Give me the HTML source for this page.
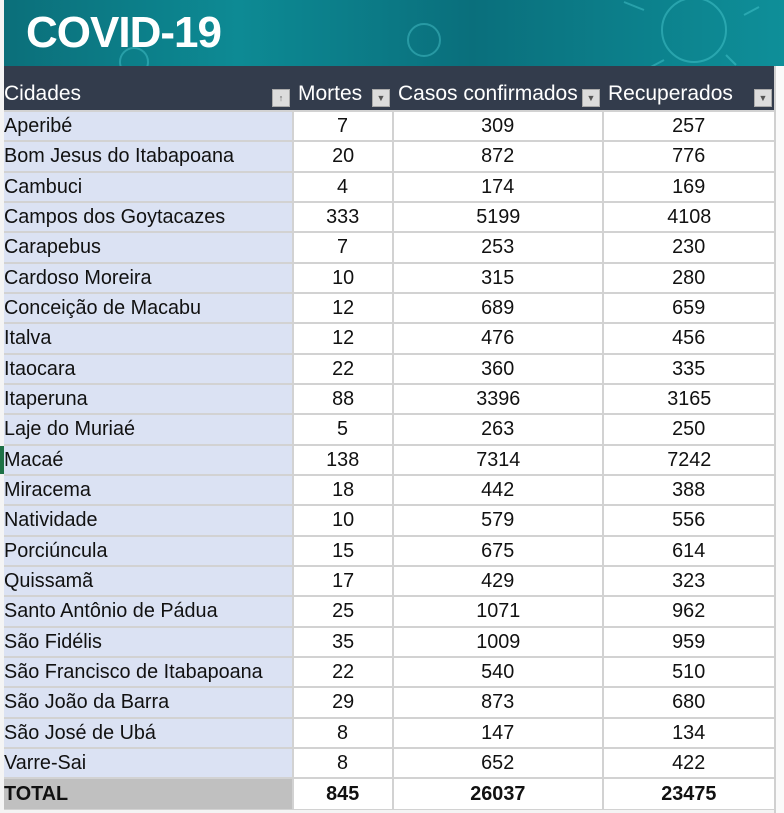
<!DOCTYPE html>
<html><head><meta charset="utf-8">
<style>
html,body{margin:0;padding:0;}
body{width:784px;height:813px;overflow:hidden;background:#f4f4f4;position:relative;font-family:"Liberation Sans",sans-serif;}
#banner{position:absolute;left:4px;top:0;width:780px;height:66px;background:linear-gradient(90deg,#0b6f7a 0%,#0d8a94 30%,#0a6f7c 60%,#0e8f99 100%);overflow:hidden;}
#title{position:absolute;left:22px;top:8px;font-size:44px;font-weight:bold;color:#fff;letter-spacing:-1px;}
#grid{position:absolute;left:4px;top:110px;width:774px;height:700px;background:#d2d2d2;}
#hdr{position:absolute;left:4px;top:66px;width:770px;height:44px;background:#333c4c;}
#rightpad{position:absolute;left:774px;top:66px;width:10px;height:747px;background:#fafafa;border-left:2px solid #d0d0d0;box-sizing:border-box;}
.h{position:absolute;top:66px;height:44px;color:#fff;font-size:21px;line-height:56px;white-space:nowrap;}
.dd{position:absolute;width:18px;height:18px;background:#dcdcdc;border:1px solid #aaa;box-sizing:border-box;font-size:9px;color:#555;text-align:center;line-height:17px;}
.c{position:absolute;box-sizing:border-box;font-size:20px;color:#111;white-space:nowrap;}
.t{display:inline-block;transform:scaleX(0.99);transform-origin:left;}
.n{text-align:center;}
.n .t{transform-origin:center;}
</style></head><body>
<div id="banner">
<svg width="780" height="66" style="position:absolute;left:0;top:0">
<g fill="none" stroke="#5fe0e6" stroke-opacity="0.35" stroke-width="2">
<circle cx="690" cy="30" r="32"/><circle cx="420" cy="40" r="16"/><circle cx="130" cy="62" r="14"/>
<path d="M640 10 l-20 -8 M700 -5 l5 -10 M740 15 l15 -8 M660 60 l-15 8 M722 55 l10 10"/>
</g></svg>
<div id="title">COVID-19</div>
</div>
<div id="grid"></div>
<div id="hdr"></div>
<div id="rightpad"></div>
<script>
const cities=["Aperibé","Bom Jesus do Itabapoana","Cambuci","Campos dos Goytacazes","Carapebus","Cardoso Moreira","Conceição de Macabu","Italva","Itaocara","Itaperuna","Laje do Muriaé","Macaé","Miracema","Natividade","Porciúncula","Quissamã","Santo Antônio de Pádua","São Fidélis","São Francisco de Itabapoana","São João da Barra","São José de Ubá","Varre-Sai"];
const mortes=[7,20,4,333,7,10,12,12,22,88,5,138,18,10,15,17,25,35,22,29,8,8];
const casos=[309,872,174,5199,253,315,689,476,360,3396,263,7314,442,579,675,429,1071,1009,540,873,147,652];
const recuperados=[257,776,169,4108,230,280,659,456,335,3165,250,7242,388,556,614,323,962,959,510,680,134,422];
const totals=["TOTAL",845,26037,23475];
const headers=["Cidades","Mortes","Casos confirmados","Recuperados"];

const colX=[4,294,394,604], colW=[288,98,208,170];
const top0=112, rowH=30.33;
const body=document.body;
function rowY(i){return top0+i*rowH;}

headers.forEach((h,j)=>{
  const d=document.createElement('div');
  d.className='h';
  
  
  d.style.left=(colX[j]+(j==0?0:4))+'px';
  d.textContent=h;
  body.appendChild(d);
  const b=document.createElement('div');
  b.className='dd';
  
  
  b.style.left=(colX[j]+colW[j]-20)+'px';
  b.style.top='89px';
  b.textContent=j==0?'↑':'▼';
  body.appendChild(b);
});

function cell(j,y,h,txt,bg,bold,name){
  const d=document.createElement('div');
  d.className='c'+(j>0?' n':'');
  
  
  d.style.left=colX[j]+'px';
  d.style.top=y+'px';
  d.style.width=colW[j]+'px';
  d.style.height=(h-2)+'px';
  d.style.lineHeight=(h-2)+'px';
  d.style.background=bg;
  if(bold)d.style.fontWeight='bold';
  d.innerHTML='<span class="t">'+txt+'</span>';
  body.appendChild(d);
}
cities.forEach((c,i)=>{
  const y=rowY(i), h=Math.round(rowY(i+1))-Math.round(y);
  const vals=[c,mortes[i],casos[i],recuperados[i]];
  vals.forEach((v,j)=>cell(j,Math.round(y),h,v,j==0?'#dbe2f3':'#fff',false,j==0?'city-cell':'value-cell'));
});
const ty=Math.round(rowY(cities.length));
totals.forEach((v,j)=>cell(j,ty,813-ty-2,v,j==0?'#c0c0c0':'#fff',true,j==0?'total-label':'total-value'));
const m=document.createElement('div');


m.style.cssText='position:absolute;left:0;top:'+Math.round(rowY(11))+'px;width:4px;height:28px;background:#1e7145;';
body.appendChild(m);
</script>
</body></html>
